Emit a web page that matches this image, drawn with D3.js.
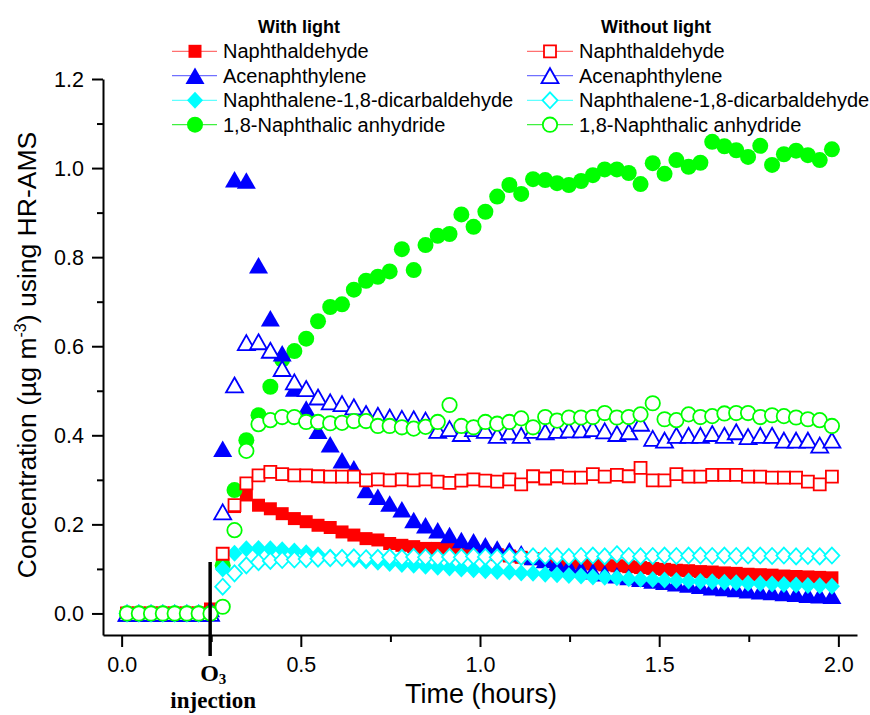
<!DOCTYPE html>
<html><head><meta charset="utf-8">
<script src="https://cdn.jsdelivr.net/npm/d3@7"></script>
<style>body{margin:0;background:#fff}</style>
</head><body>
<svg id="c" width="870" height="715"></svg>
<script>
// ---- DATA ----
const times = [0.015,0.048,0.082,0.115,0.148,0.182,0.215,0.248,0.282,0.315,0.348,0.382,0.415,0.448,0.482,0.515,0.548,0.582,0.615,0.648,0.682,0.715,0.748,0.782,0.815,0.848,0.882,0.915,0.948,0.982,1.015,1.048,1.082,1.115,1.148,1.182,1.215,1.248,1.282,1.315,1.348,1.382,1.415,1.448,1.482,1.515,1.548,1.582,1.615,1.648,1.682,1.715,1.748,1.782,1.815,1.848,1.882,1.915,1.948,1.982];

const naphLight = [0,0,0,0,0,0,0,0.01,0.11,0.24,0.266,0.243,0.235,0.224,0.213,0.206,0.198,0.193,0.183,0.176,0.168,0.165,0.157,0.153,0.150,0.146,0.146,0.144,0.140,0.138,0.135,0.132,0.129,0.126,0.123,0.120,0.118,0.116,0.113,0.111,0.109,0.107,0.105,0.103,0.101,0.099,0.097,0.096,0.094,0.093,0.091,0.090,0.088,0.087,0.086,0.084,0.083,0.082,0.081,0.080];
const acenLight = [0,0,0,0,0,0,0,0.01,0.37,0.975,0.972,0.782,0.663,0.584,0.505,0.46,0.41,0.38,0.344,0.326,0.277,0.262,0.247,0.234,0.21,0.198,0.187,0.176,0.165,0.162,0.153,0.146,0.142,0.135,0.127,0.12,0.112,0.106,0.1,0.095,0.09,0.086,0.082,0.078,0.074,0.071,0.068,0.065,0.062,0.059,0.057,0.055,0.052,0.05,0.048,0.046,0.044,0.042,0.041,0.04];
const dicarbLight = [0,0,0,0,0,0,0,0,0.10,0.135,0.145,0.146,0.145,0.143,0.14,0.136,0.132,0.127,0.124,0.121,0.118,0.115,0.112,0.11,0.108,0.106,0.104,0.102,0.1,0.098,0.096,0.094,0.093,0.091,0.09,0.088,0.087,0.085,0.084,0.082,0.081,0.08,0.078,0.077,0.076,0.075,0.074,0.073,0.072,0.071,0.07,0.069,0.068,0.067,0.066,0.065,0.064,0.063,0.062,0.061];
const anhydLight = [0,0,0,0,0,0,0,0,0.108,0.277,0.389,0.445,0.509,0.57,0.589,0.617,0.656,0.688,0.694,0.727,0.747,0.756,0.768,0.818,0.771,0.827,0.848,0.852,0.896,0.868,0.902,0.936,0.962,0.942,0.975,0.973,0.966,0.962,0.971,0.984,0.997,0.997,0.989,0.964,1.011,0.987,1.018,1.003,1.012,1.059,1.049,1.040,1.025,1.050,1.007,1.031,1.039,1.029,1.018,1.042];

const naphDark = [0,0,0,0,0,0,0,0,0.134,0.243,0.292,0.310,0.318,0.313,0.310,0.310,0.308,0.307,0.307,0.307,0.299,0.301,0.299,0.301,0.299,0.301,0.296,0.293,0.298,0.301,0.298,0.296,0.301,0.290,0.308,0.303,0.308,0.305,0.305,0.313,0.307,0.311,0.308,0.327,0.299,0.299,0.313,0.307,0.307,0.311,0.311,0.311,0.307,0.307,0.305,0.305,0.305,0.296,0.290,0.307];
const acenDark = [0,0,0,0,0,0,0,0,0.228,0.513,0.608,0.61,0.591,0.55,0.52,0.505,0.486,0.475,0.471,0.464,0.449,0.445,0.441,0.438,0.437,0.434,0.411,0.415,0.404,0.415,0.411,0.400,0.408,0.400,0.411,0.408,0.411,0.412,0.412,0.415,0.41,0.404,0.408,0.427,0.393,0.389,0.400,0.400,0.400,0.404,0.400,0.408,0.397,0.400,0.400,0.389,0.389,0.389,0.378,0.389];
const dicarbDark = [0,0,0,0,0,0,0,0,0.06,0.09,0.108,0.115,0.118,0.12,0.121,0.122,0.123,0.124,0.125,0.126,0.124,0.125,0.126,0.125,0.127,0.126,0.125,0.127,0.126,0.128,0.127,0.126,0.128,0.127,0.128,0.129,0.128,0.127,0.129,0.130,0.128,0.133,0.129,0.128,0.129,0.130,0.129,0.130,0.130,0.129,0.130,0.129,0.130,0.130,0.129,0.130,0.128,0.129,0.128,0.130];
const anhydDark = [0,0,0,0,0,0,0,0,0.015,0.187,0.365,0.425,0.434,0.441,0.441,0.430,0.430,0.427,0.428,0.432,0.432,0.421,0.421,0.418,0.415,0.419,0.430,0.468,0.421,0.418,0.430,0.426,0.430,0.438,0.418,0.441,0.433,0.440,0.440,0.441,0.450,0.440,0.441,0.447,0.472,0.436,0.434,0.447,0.441,0.443,0.449,0.450,0.450,0.441,0.445,0.443,0.440,0.436,0.434,0.421];

const compoundNames = ["Naphthaldehyde","Acenaphthylene","Naphthalene-1,8-dicarbaldehyde","1,8-Naphthalic anhydride"];
const groupTitles = ["With light","Without light"];
const xTicksMajor = [0,0.5,1.0,1.5,2.0];
const xTicksMinor = [0.25,0.75,1.25,1.75];
const yTicksMajor = [0,0.2,0.4,0.6,0.8,1.0,1.2];
const yTicksMinor = [0.1,0.3,0.5,0.7,0.9,1.1];
const injectionTime = 0.247;

// ---- SETUP ----
const colors = ["#ff0000","#0000ff","#00ffff","#00ff00"];
const lineColors = ["#ff7070","#7070ff","#60ffff","#40f040"];
const shapes = ["square","triangle","diamond","circle"];
const lightSeries = [naphLight, acenLight, dicarbLight, anhydLight];
const darkSeries = [naphDark, acenDark, dicarbDark, anhydDark];

const svg = d3.select("#c");
const FONT = "'Liberation Sans', Arial, Helvetica, sans-serif";
const SERIF = "'Liberation Serif','Times New Roman',serif";
const x = d3.scaleLinear().domain([-0.052, 2.052]).range([103, 857]);
const y = d3.scaleLinear().domain([-0.0484, 1.2]).range([635, 79]);

function markerPath(shape, open){
  const p = d3.path();
  if(shape==="square"){ const s = open?12:13; p.rect(-s/2,-s/2,s,s); }
  else if(shape==="circle"){ const r = open?7.2:8; p.moveTo(r,0); p.arc(0,0,r,0,2*Math.PI); }
  else if(shape==="triangle"){ const w = open?17:19, h = open?15:16.5; p.moveTo(0,-h/2); p.lineTo(w/2,h/2); p.lineTo(-w/2,h/2); p.closePath(); }
  else if(shape==="diamond"){ const w = open?15:16, h = open?16:17; p.moveTo(0,-h/2); p.lineTo(w/2,0); p.lineTo(0,h/2); p.lineTo(-w/2,0); p.closePath(); }
  return p.toString();
}

// ---- AXES ----
const gx = svg.append("g").attr("transform","translate(0,635)");
gx.call(d3.axisBottom(x).tickValues(xTicksMajor).tickFormat(d3.format(".1f")).tickSize(12).tickSizeOuter(0));
const gxm = svg.append("g").attr("transform","translate(0,635)");
gxm.call(d3.axisBottom(x).tickValues(xTicksMinor).tickFormat("").tickSize(7).tickSizeOuter(0));
gxm.select(".domain").remove();
const gy = svg.append("g").attr("transform","translate(103,0)");
gy.call(d3.axisLeft(y).tickValues(yTicksMajor).tickFormat(d3.format(".1f")).tickSize(11).tickSizeOuter(0));
const gym = svg.append("g").attr("transform","translate(103,0)");
gym.call(d3.axisLeft(y).tickValues(yTicksMinor).tickFormat("").tickSize(6).tickSizeOuter(0));
gym.select(".domain").remove();
svg.selectAll(".domain, .tick line").attr("stroke","#000").attr("stroke-width",2);
gx.selectAll(".tick text").attr("font-family",FONT).attr("font-size",21.5).attr("fill","#000").attr("dy",0).attr("y",37);
gy.selectAll(".tick text").attr("font-family",FONT).attr("font-size",21.5).attr("fill","#000").attr("x",-19).attr("dy","0.35em");

// ---- DATA MARKS ----
const order = [[lightSeries,0,false],[lightSeries,3,false],[lightSeries,1,false],[lightSeries,2,false],
               [darkSeries,0,true],[darkSeries,1,true],[darkSeries,2,true],[darkSeries,3,true]];
order.forEach(([grp,k,open])=>{
  const vals = grp[k];
  svg.append("g").selectAll("path").data(vals.map((v,i)=>[times[i],v])).join("path")
    .attr("d", markerPath(shapes[k], open))
    .attr("transform", d=>`translate(${x(d[0])},${y(d[1])})`)
    .attr("fill", open ? "#fff" : colors[k])
    .attr("stroke", open ? colors[k] : "none")
    .attr("stroke-width", open ? 1.8 : 0);
});

// ---- INJECTION ANNOTATION ----
svg.append("line").attr("x1",x(injectionTime)).attr("x2",x(injectionTime)).attr("y1",562).attr("y2",656)
  .attr("stroke","#000").attr("stroke-width",3.5);
const o3 = svg.append("text").attr("x",x(injectionTime)-10).attr("y",681)
  .attr("font-family",SERIF).attr("font-weight","bold").attr("font-size",24).attr("fill","#000");
o3.append("tspan").text("O");
o3.append("tspan").attr("font-size",15).attr("dy",3).text("3");
svg.append("text").attr("x",x(injectionTime)+3).attr("y",708).attr("text-anchor","middle")
  .attr("font-family",SERIF).attr("font-weight","bold").attr("font-size",23).attr("fill","#000")
  .text("injection");

// ---- AXIS TITLES ----
svg.append("text").attr("x",481).attr("y",703).attr("text-anchor","middle")
  .attr("font-family",FONT).attr("font-size",27).attr("fill","#000").text("Time (hours)");
const yt = svg.append("text").attr("transform","translate(36,355) rotate(-90)").attr("text-anchor","middle")
  .attr("font-family",FONT).attr("font-size",26.5).attr("fill","#000");
yt.append("tspan").text("Concentration (\u00b5g m");
yt.append("tspan").attr("font-size",16).attr("dy",-10).text("-3");
yt.append("tspan").attr("dy",10).text(") using HR-AMS");

// ---- LEGENDS ----
const legendX = [{lx1:172,lx2:217,mx:195,tx:223,title:299},{lx1:527,lx2:573,mx:550,tx:579,title:656}];
const rowY = [58.3,82.7,107.3,131.7];
legendX.forEach((L,gi)=>{
  svg.append("text").attr("x",L.title).attr("y",32.7).attr("text-anchor","middle")
    .attr("font-family",FONT).attr("font-weight","bold").attr("font-size",18).attr("fill","#000").text(groupTitles[gi]);
  compoundNames.forEach((name,k)=>{
    const cy = rowY[k]-7;
    svg.append("line").attr("x1",L.lx1).attr("x2",L.lx2).attr("y1",cy).attr("y2",cy)
      .attr("stroke",lineColors[k]).attr("stroke-width",1.3);
    svg.append("path").attr("d",markerPath(shapes[k], gi===1))
      .attr("transform",`translate(${L.mx},${cy})`)
      .attr("fill", gi===1 ? "#fff" : colors[k])
      .attr("stroke", gi===1 ? colors[k] : "none").attr("stroke-width", gi===1?1.8:0);
    svg.append("text").attr("x",L.tx).attr("y",rowY[k]).attr("font-family",FONT).attr("font-size",20).attr("fill","#000").text(name);
  });
});
</script>
</body></html>
